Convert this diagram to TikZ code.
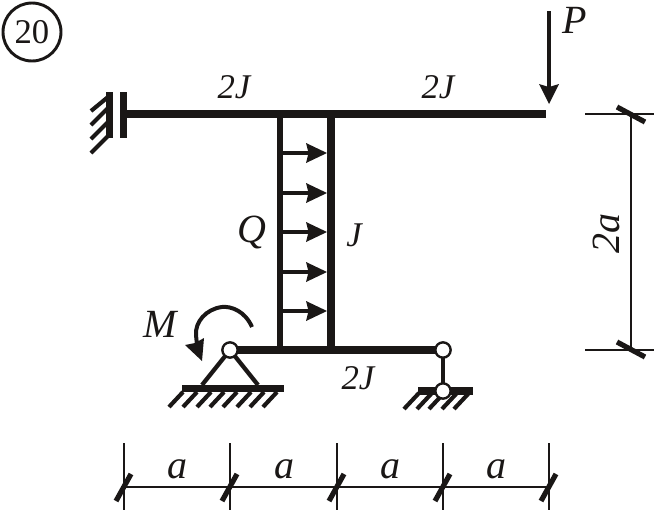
\documentclass[tikz,border=0pt]{standalone}
\usepackage{fontspec}
\setmainfont{Liberation Serif}
\definecolor{inkc}{HTML}{1A1716}
\begin{document}
\begin{tikzpicture}[x=0.75pt,y=-0.75pt,
  ink/.style={color=inkc},
  beam/.style={ink,line width=6pt},
  beamthin/.style={ink,line width=4pt},
  hatchline/.style={ink,line width=3.1pt},
  dimline/.style={ink,line width=1.4pt},
  tick/.style={ink,line width=3.9pt},
  hinge/.style={circle,draw=inkc,fill=white,line width=1.8pt,minimum size=11.5pt,inner sep=0pt},
  lbl/.style={inner sep=0pt,text=inkc,font=\fontsize{30}{30}\selectfont\itshape},
  lbls/.style={inner sep=0pt,text=inkc,font=\fontsize{26}{26}\selectfont\itshape},
  pt/.style={inner sep=0pt,minimum size=0pt}]
\useasboundingbox (0,0) rectangle (654,511);
% number
\node[circle,draw=inkc,line width=2.2pt,minimum size=43.5pt,inner sep=0pt,text=inkc,font=\fontsize{26}{26}\selectfont] (num) at (32,32) {20};
% points
\coordinate (W) at (127,114); \coordinate (E) at (546,114);
\coordinate (T) at (331,110); \coordinate (B) at (331,354);
\coordinate (LT) at (280,114); \coordinate (LB) at (280,350);
% clamp
\draw[ink,line width=5.6pt] (109.5,92) -- (109.5,138);
\draw[ink,line width=5.6pt] (123.5,92) -- (123.5,138);
\draw[hatchline] (108,97) -- (91,111);
\foreach \y in {111,125,139}
  \draw[hatchline] (111,\y-6) -- (91,\y+14);
% frame
\draw[beam] (W) -- (E);
\draw[beam] (T) -- (B);
\draw[beamthin] (LT) -- (LB);
% lower beam and hinges
\node[pt] (A) at (230,350) {};
\node[pt] (C) at (443,350) {};
\node[pt] (D) at (443,391) {};
\draw[beam] (A) -- (C);
% left support
\coordinate (GL) at (202,385); \coordinate (GR) at (258,385);
\draw[ink,line width=3.2pt] (GL) -- (A.center) -- (GR);
\fill[ink] (182,385) rectangle (284,392);
\foreach \x in {169,183,197,210,223,237,250,263}
  \draw[hatchline] (\x,407) -- (\x+14,392);
\node[hinge] at (A) {};
% right support
\fill[ink] (418,387) rectangle (473,395);
\foreach \x in {404,417,429,442,454}
  \draw[hatchline] (\x,409) -- (\x+15,393);
\draw[ink,line width=3.2pt] (C.center) -- (D.center);
\node[hinge] at (C) {};
\node[hinge] at (D) {};
% distributed load
\foreach \y in {153,193,232,272,311}{
  \draw[ink,line width=3.4pt] (280,\y) -- (310,\y);
  \fill[ink] (327,\y) -- (306,\y-10) -- (308.5,\y) -- (306,\y+10) -- cycle;
}
% force P
\draw[ink,line width=3.6pt] (549,11) -- (549,90);
\fill[ink] (549,104) -- (539,84) -- (549,87) -- (559,84) -- cycle;
% moment
\draw[ink,line width=3pt] (252,327) .. controls (245,311) and (231,306) .. (222,307) .. controls (206,309) and (195,322) .. (196,335) -- (197,345);
\fill[ink] (202,361) -- (185,345) -- (195,343) -- (204,338) -- cycle;
% dimensions bottom
\coordinate (d0) at (124,487); \coordinate (d4) at (549,487);
\draw[dimline,line width=1.7pt] (d0) -- (d4);
\foreach \x in {124,230,337,443,549}{
  \draw[dimline] (\x,443) -- (\x,510);
  \draw[tick] (\x+7,474) -- (\x-8,501);
}
% dimensions right
\coordinate (r0) at (631,114); \coordinate (r1) at (631,350);
\draw[dimline] (r0) -- (r1);
\draw[dimline] (585,114) -- (654,114);
\draw[dimline] (585,350) -- (654,350);
\draw[tick] (617,107) -- (645,122);
\draw[tick] (617,342) -- (645,357);
% labels
\node[lbls] (l1) at (234,87) {2J};
\node[lbls] (l2) at (438,87) {2J};
\node[lbls] (l3) at (354,235) {J};
\node[lbls] (l4) at (358,378) {2J};
\node[lbl] (lP) at (575,20) {P};
\node[lbl] (lQ) at (252,232) {Q};
\node[lbl] (lM) at (160,324) {M};
\node[lbl] (a1) at (177,469) {a};
\node[lbl] (a2) at (284,469) {a};
\node[lbl] (a3) at (390,469) {a};
\node[lbl] (a4) at (496,469) {a};
\node[lbl,rotate=90] (a5) at (606,233) {2a};
\end{tikzpicture}
\end{document}
